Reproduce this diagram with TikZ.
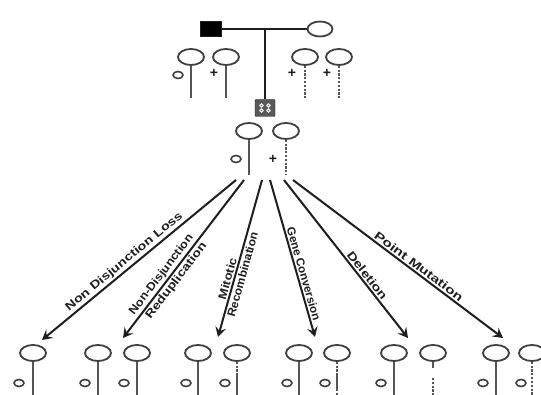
\documentclass[tikz,border=0pt]{standalone}
\usepackage{fontspec}
\usepackage{graphicx}
\setmainfont{Liberation Sans}
\usetikzlibrary{shapes.geometric,arrows.meta,calc}
\definecolor{ink}{HTML}{1E1E1E}
\definecolor{stemgray}{HTML}{555555}
\tikzset{
  chromo/.style={ellipse, draw=ink!85, line width=1.8pt, minimum width=26pt, minimum height=16pt, inner sep=0pt},
  stemsolid/.style={draw=stemgray, line width=2.6pt},
  stemdash/.style={draw=stemgray, line width=2.6pt, dash pattern=on 2.2pt off 1.6pt},
  mutant/.style={ellipse, draw=ink!85, line width=1.6pt, minimum width=10pt, minimum height=7pt, inner sep=0pt},
  wildtype/.style={inner sep=0pt, font=\bfseries\fontsize{14}{14}\selectfont, text=ink},
  kinship/.style={draw=ink, line width=1.5pt},
  outcome/.style={draw=ink, line width=2pt, -{Stealth[length=10pt,width=11pt,inset=4pt]}},
  lab/.style={sloped, inner sep=1.5pt, text=ink, font=\bfseries\fontsize{11.5}{12}\selectfont}
}
\begin{document}
\begin{tikzpicture}[x=1pt,y=-1pt]
\useasboundingbox (0,0) rectangle (541,395);

% parents and child
\node[draw=ink, fill=black, minimum width=21pt, minimum height=15pt, inner sep=0pt] (father) at (211,29) {};
\node[chromo, minimum width=25pt, minimum height=15pt] (mother) at (320,29) {};
\coordinate (mate) at (265,29);
\node[draw=ink, fill=black!65, rounded corners=1pt, minimum width=20pt, minimum height=17pt, inner sep=0pt] (child) at (265,108) {};
\foreach \dx/\dy in {-3.5/-2.5, 3.5/-2.5, -3.5/2.5, 3.5/2.5}
  \draw[white, line width=0.8pt] ($(child.center)+(\dx,\dy)$) circle (1.7pt);
\draw[kinship] (father.east) -- (mother.west);
\draw[kinship] (mate) -- (child.north);

% paternal chromosomes
\node[chromo] (f1) at (191,57) {};
\coordinate (f1e) at (191,98);
\draw[stemsolid] (f1.south) -- (f1e);
\node[mutant] (f1a) at (178,75) {};
\node[chromo] (f2) at (226,57) {};
\coordinate (f2e) at (226,98);
\draw[stemsolid] (f2.south) -- (f2e);
\node[wildtype] (f2a) at (214,73) {+};

% maternal chromosomes
\node[chromo] (m1) at (305,57) {};
\coordinate (m1e) at (305,98);
\draw[stemdash] (m1.south) -- (m1e);
\node[wildtype] (m1a) at (292,73) {+};
\node[chromo] (m2) at (339,57) {};
\coordinate (m2e) at (339,98);
\draw[stemdash] (m2.south) -- (m2e);
\node[wildtype] (m2a) at (327,73) {+};

% chromosomes of the child
\node[chromo] (c1) at (249,131) {};
\coordinate (c1e) at (249,175);
\draw[stemsolid] (c1.south) -- (c1e);
\node[mutant] (c1a) at (236,159) {};
\node[chromo] (c2) at (286,131) {};
\coordinate (c2e) at (286,175);
\draw[stemdash] (c2.south) -- (c2e);
\node[wildtype] (c2a) at (273,159) {+};

% outcome chromosomes
\foreach \n/\x in {1/33, 2/98, 3/137, 4/198, 5/237, 6/299, 7/337, 8/394, 9/433, 10/496, 11/532}
  \node[chromo] (b\n) at (\x,353) {};
\foreach \n/\x in {1/33, 2/98, 3/137, 4/198, 5/237, 6/299, 7/337, 8/394, 9/433, 10/496, 11/532}
  \coordinate (b\n e) at (\x,396);
\foreach \n in {1,2,3,4,6,8,10}
  \draw[stemsolid] (b\n.south) -- (b\n e);
% mitotic recombination: maternal upper arm
\coordinate (b5m) at (237,374);
\draw[stemdash] (b5.south) -- (b5m);
\draw[stemsolid] (b5m) -- (b5e);
% gene conversion: short converted stretch
\coordinate (b7m) at (337,375);
\coordinate (b7n) at (337,389);
\draw[stemdash] (b7.south) -- (b7m);
\draw[stemsolid] (b7m) -- (b7n);
\draw[stemdash] (b7n) -- (b7e);
% deletion: stub, gap, remainder
\coordinate (b9m) at (433,368);
\coordinate (b9n) at (433,378);
\draw[stemsolid] (b9.south) -- (b9m);
\draw[stemdash] (b9n) -- (b9e);
% point mutation
\draw[stemdash] (b11.south) -- (b11e);
% mutant alleles
\foreach \n/\x in {1/19, 2/85, 3/124, 4/186, 5/225, 6/287, 7/325, 8/381, 10/483, 11/521}
  \node[mutant] (b\n a) at (\x,383) {};

% mechanisms
\coordinate (s1) at (236,180); \coordinate (e1) at (42,340);
\coordinate (s2) at (244,180); \coordinate (e2) at (123,338);
\coordinate (s3) at (262,180); \coordinate (e3) at (218,337);
\coordinate (s4) at (270,180); \coordinate (e4) at (315,337);
\coordinate (s5) at (284,180); \coordinate (e5) at (408,338);
\coordinate (s6) at (293,180); \coordinate (e6) at (503,338);
\draw[outcome] (s1) -- node[lab, above, pos=0.55] {\scalebox{1.25}[1]{Non Disjunction Loss}} (e1);
\draw[outcome] (s2) -- node[lab, above, pos=0.63] {\scalebox{1.1}[1]{Non-Disjunction}}
                       node[lab, below, pos=0.61] {\scalebox{1.22}[1]{Reduplication}} (e2);
\draw[outcome] (s3) -- node[lab, above, pos=0.64] {\scalebox{1.14}[1]{Mitotic}}
                       node[lab, below, pos=0.59] {\scalebox{1.05}[1]{Recombination}} (e3);
\draw[outcome] (s4) -- node[lab, above, pos=0.61] {\scalebox{1.01}[1]{Gene Conversion}} (e4);
\draw[outcome] (s5) -- node[lab, above, pos=0.63] {\scalebox{1.27}[1]{Deletion}} (e5);
\draw[outcome] (s6) -- node[lab, above, pos=0.58] {\scalebox{1.35}[1]{Point Mutation}} (e6);
\end{tikzpicture}
\end{document}
